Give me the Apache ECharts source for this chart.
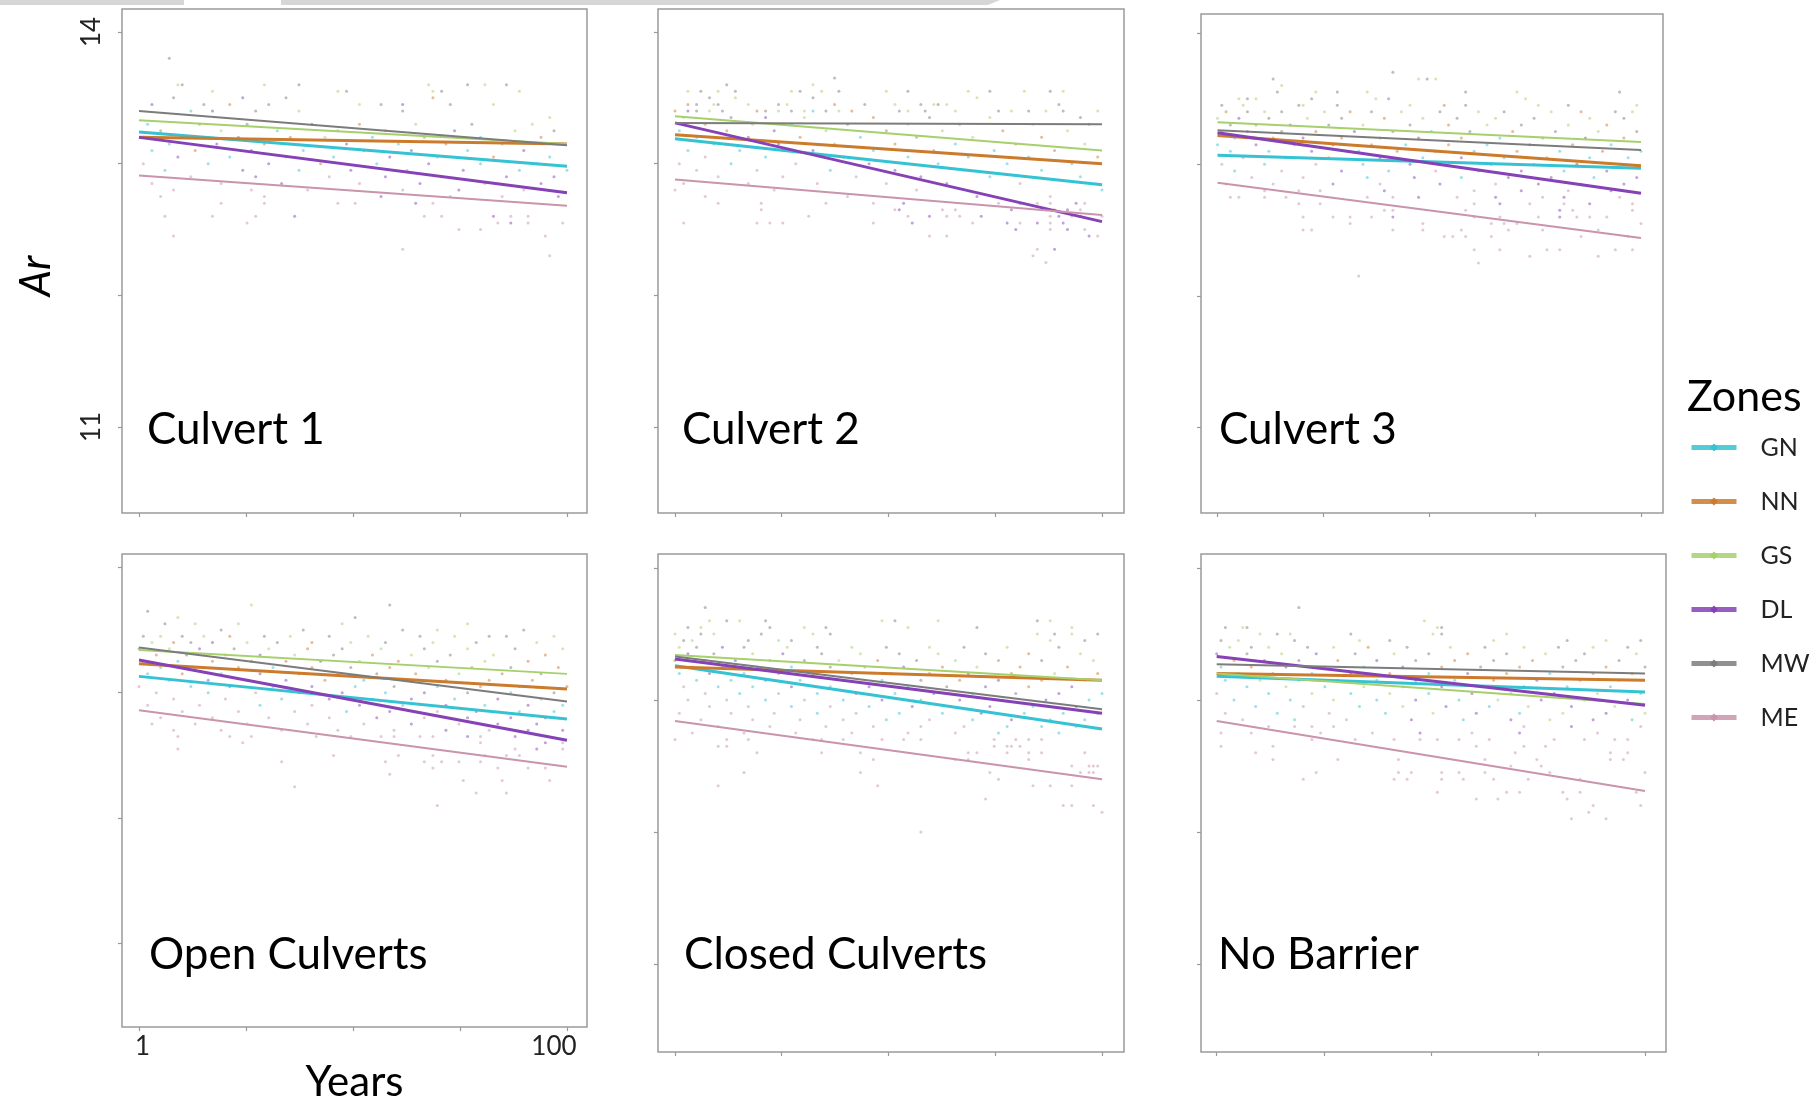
<!DOCTYPE html>
<html>
<head>
<meta charset="utf-8">
<title>Ar by zone over 100 years</title>
<script src="https://cdn.jsdelivr.net/npm/echarts@6/dist/echarts.min.js"></script>
<style>
  html, body { margin: 0; padding: 0; background: #fff; }
  #chart { width: 1820px; height: 1104px; }
</style>
</head>
<body>
<div id="chart"></div>
<script>
// zones and panels
const zones = ['GN', 'NN', 'GS', 'DL', 'MW', 'ME'];
const panelNames = ['Culvert 1', 'Culvert 2', 'Culvert 3', 'Open Culverts', 'Closed Culverts', 'No Barrier'];

// axis ticks / labels
const trendYears = [1, 100];
const xTickYears = [1, 25.75, 50.5, 75.25, 100];
const xLabelYears = [1, 100];
const yTickValues = [11, 12, 13, 14];
const yLabelValues = [11, 14];

// Ar of each zone's trend line at year 1 and at year 100 (GN, NN, GS, DL, MW, ME)
const culvert1Start = [13.24, 13.20, 13.33, 13.20, 13.40, 12.91];
const culvert1End = [12.98, 13.15, 13.15, 12.78, 13.14, 12.68];
const culvert2Start = [13.19, 13.22, 13.36, 13.31, 13.31, 12.88];
const culvert2End = [12.84, 13.00, 13.10, 12.56, 13.30, 12.61];
const culvert3Start = [13.07, 13.22, 13.32, 13.24, 13.26, 12.86];
const culvert3End = [12.97, 12.99, 13.17, 12.78, 13.11, 12.44];
const openStart = [13.13, 13.23, 13.34, 13.26, 13.36, 12.86];
const openEnd = [12.79, 13.03, 13.15, 12.62, 12.93, 12.41];
const closedStart = [13.26, 13.25, 13.34, 13.31, 13.33, 12.84];
const closedEnd = [12.78, 13.15, 13.15, 12.90, 12.93, 12.40];
const noBarrierStart = [13.18, 13.20, 13.20, 13.33, 13.27, 12.84];
const noBarrierEnd = [13.06, 13.15, 12.97, 12.96, 13.20, 12.31];

// observations: [year, Ar, zone index]
const culvert1Dots = [
  [8, 13.80, 4], [10, 13.60, 2], [11, 13.60, 4], [30, 13.60, 2], [38, 13.60, 4], [68, 13.60, 2], [77, 13.60, 4], [81, 13.60, 2], [86, 13.60, 4],
  [18, 13.55, 2], [47, 13.55, 2], [49, 13.55, 4], [69, 13.55, 2], [71, 13.55, 4], [89, 13.55, 2],
  [9, 13.50, 4], [25, 13.50, 3], [35, 13.50, 4], [69, 13.50, 1],
  [4, 13.45, 3], [16, 13.45, 4], [22, 13.45, 1], [31, 13.45, 4], [52, 13.45, 2], [57, 13.45, 4], [62, 13.45, 3], [73, 13.45, 4], [83, 13.45, 2],
  [13, 13.40, 0], [18, 13.40, 3], [28, 13.40, 4], [38, 13.40, 2], [62, 13.40, 4], [96, 13.35, 2],
  [3, 13.30, 0], [15, 13.30, 1], [26, 13.30, 4], [41, 13.30, 3], [52, 13.30, 1], [65, 13.30, 2], [78, 13.30, 4], [92, 13.30, 2],
  [6, 13.25, 1], [20, 13.25, 2], [33, 13.25, 0], [47, 13.25, 4], [58, 13.25, 1], [74, 13.25, 3], [88, 13.25, 2], [97, 13.25, 4],
  [2, 13.20, 3], [11, 13.20, 0], [24, 13.20, 4], [36, 13.20, 1], [44, 13.20, 2], [55, 13.20, 0], [67, 13.20, 1], [80, 13.20, 0], [94, 13.20, 1],
  [8, 13.15, 0], [19, 13.15, 3], [30, 13.15, 1], [49, 13.15, 3], [61, 13.15, 0], [72, 13.15, 1], [85, 13.15, 0], [99, 13.15, 1],
  [4, 13.10, 0], [14, 13.10, 1], [27, 13.10, 3], [39, 13.10, 0], [53, 13.10, 4], [64, 13.10, 3], [77, 13.10, 0], [90, 13.10, 3],
  [10, 13.05, 3], [22, 13.05, 0], [35, 13.05, 5], [46, 13.05, 0], [59, 13.05, 3], [70, 13.05, 0], [83, 13.05, 1], [96, 13.05, 0],
  [2, 13.00, 5], [17, 13.00, 0], [31, 13.00, 3], [43, 13.00, 1], [56, 13.00, 0], [68, 13.00, 3], [80, 13.00, 0], [93, 13.00, 3],
  [7, 12.95, 0], [25, 12.95, 3], [38, 12.95, 0], [50, 12.95, 3], [63, 12.95, 5], [76, 12.95, 3], [89, 12.95, 0], [100, 12.95, 0],
  [13, 12.90, 5], [28, 12.90, 3], [45, 12.90, 5], [58, 12.90, 3], [71, 12.90, 3], [86, 12.90, 3], [97, 12.90, 3],
  [4, 12.85, 5], [20, 12.85, 5], [34, 12.85, 3], [52, 12.85, 5], [66, 12.85, 3], [81, 12.85, 5], [94, 12.85, 3],
  [9, 12.80, 5], [27, 12.80, 5], [40, 12.80, 5], [62, 12.80, 5], [75, 12.80, 3], [90, 12.80, 5],
  [6, 12.75, 5], [30, 12.75, 5], [57, 12.75, 3], [73, 12.75, 5], [85, 12.75, 5], [98, 12.75, 3],
  [20, 12.70, 5], [30, 12.70, 5], [47, 12.70, 5], [51, 12.70, 5], [65, 12.70, 3], [69, 12.70, 5],
  [7, 12.60, 5], [18, 12.60, 5], [28, 12.60, 5], [37, 12.60, 3], [67, 12.60, 5], [71, 12.60, 5], [83, 12.60, 3], [87, 12.60, 5], [91, 12.60, 5],
  [26, 12.55, 5], [84, 12.55, 5], [87, 12.55, 3], [91, 12.55, 5], [99, 12.55, 5],
  [75, 12.50, 5], [80, 12.50, 5], [9, 12.45, 5], [95, 12.45, 5], [62, 12.35, 5], [96, 12.30, 5]
];
const culvert2Dots = [
  [13, 13.60, 4], [33, 13.60, 2], [38, 13.65, 4],
  [4, 13.55, 2], [7, 13.55, 4], [11, 13.55, 2], [15, 13.55, 4], [28, 13.55, 2], [30, 13.55, 4], [35, 13.55, 2], [39, 13.55, 4], [50, 13.55, 2], [55, 13.55, 4], [69, 13.55, 2], [74, 13.55, 4], [82, 13.55, 2], [88, 13.55, 4], [91, 13.55, 2],
  [9, 13.50, 4], [15, 13.50, 2], [33, 13.50, 4], [71, 13.50, 2],
  [4, 13.45, 1], [6, 13.45, 4], [10, 13.45, 2], [11, 13.45, 4], [18, 13.45, 2], [25, 13.45, 4], [27, 13.45, 2], [38, 13.45, 1], [45, 13.45, 4], [52, 13.45, 2], [58, 13.45, 4], [61, 13.45, 2], [62, 13.45, 4], [64, 13.45, 2], [90, 13.45, 4],
  [1, 13.40, 1], [4, 13.40, 3], [6, 13.40, 4], [9, 13.40, 2], [12, 13.40, 4], [20, 13.40, 1], [22, 13.40, 4], [25, 13.40, 2], [28, 13.40, 4], [31, 13.40, 2], [33, 13.40, 0], [36, 13.40, 4], [39, 13.40, 2], [42, 13.40, 1], [53, 13.40, 4], [55, 13.40, 2], [59, 13.40, 4], [66, 13.40, 2], [76, 13.40, 4], [79, 13.40, 2], [83, 13.40, 4], [87, 13.40, 2], [91, 13.40, 4], [99, 13.40, 2],
  [3, 13.35, 2], [14, 13.35, 4], [22, 13.35, 3], [31, 13.35, 2], [47, 13.35, 1], [60, 13.35, 4], [74, 13.35, 2], [95, 13.35, 4],
  [8, 13.30, 1], [19, 13.30, 2], [28, 13.30, 0], [41, 13.30, 4], [55, 13.30, 2], [67, 13.30, 1], [84, 13.30, 2], [97, 13.30, 4],
  [2, 13.25, 0], [13, 13.25, 1], [24, 13.25, 3], [36, 13.25, 2], [50, 13.25, 1], [63, 13.25, 2], [77, 13.25, 1], [92, 13.25, 2],
  [6, 13.20, 0], [18, 13.20, 3], [30, 13.20, 1], [44, 13.20, 0], [57, 13.20, 1], [70, 13.20, 2], [86, 13.20, 1],
  [10, 13.15, 0], [25, 13.15, 3], [38, 13.15, 0], [52, 13.15, 1], [66, 13.15, 0], [80, 13.15, 1], [96, 13.15, 2],
  [4, 13.10, 0], [16, 13.10, 0], [33, 13.10, 3], [47, 13.10, 0], [61, 13.10, 1], [75, 13.10, 0], [89, 13.10, 1],
  [8, 13.05, 5], [22, 13.05, 0], [40, 13.05, 3], [55, 13.05, 0], [69, 13.05, 0], [83, 13.05, 0], [99, 13.05, 1],
  [2, 13.00, 5], [14, 13.00, 0], [29, 13.00, 5], [46, 13.00, 3], [62, 13.00, 0], [78, 13.00, 0], [93, 13.00, 0],
  [6, 12.95, 5], [20, 12.95, 5], [37, 12.95, 0], [52, 12.95, 3], [68, 12.95, 5], [86, 12.95, 0],
  [11, 12.90, 5], [26, 12.90, 5], [43, 12.90, 5], [58, 12.90, 3], [74, 12.90, 0], [95, 12.90, 0],
  [3, 12.85, 5], [18, 12.85, 5], [34, 12.85, 5], [50, 12.85, 5], [64, 12.85, 3], [81, 12.85, 5], [100, 12.80, 0],
  [1, 12.80, 5], [8, 12.75, 5], [24, 12.80, 5], [41, 12.75, 5], [57, 12.80, 5], [71, 12.75, 3], [88, 12.75, 5],
  [11, 12.70, 5], [21, 12.70, 5], [36, 12.70, 5], [47, 12.70, 5], [54, 12.70, 3], [76, 12.70, 5], [81, 12.70, 3], [85, 12.70, 5], [88, 12.70, 5], [94, 12.70, 3], [96, 12.70, 5],
  [21, 12.65, 5], [52, 12.65, 5], [53, 12.65, 3], [63, 12.65, 5], [66, 12.65, 5], [79, 12.65, 3], [87, 12.65, 5], [89, 12.65, 5], [92, 12.65, 3], [95, 12.65, 5],
  [32, 12.60, 5], [55, 12.60, 5], [60, 12.60, 3], [64, 12.60, 5], [67, 12.60, 5], [72, 12.60, 3], [88, 12.60, 5], [90, 12.60, 3], [93, 12.60, 5], [95, 12.60, 3], [100, 12.60, 5],
  [3, 12.55, 5], [20, 12.55, 5], [23, 12.55, 5], [26, 12.55, 5], [47, 12.55, 5], [56, 12.55, 3], [70, 12.55, 5], [78, 12.55, 3], [81, 12.55, 5], [85, 12.55, 3], [88, 12.55, 5], [91, 12.55, 3],
  [80, 12.50, 3], [88, 12.50, 5], [92, 12.50, 3], [96, 12.50, 5],
  [60, 12.45, 5], [64, 12.45, 5], [97, 12.45, 3], [99, 12.45, 5],
  [85, 12.35, 5], [89, 12.35, 3], [84, 12.30, 5], [87, 12.25, 5]
];
const culvert3Dots = [
  [42, 13.70, 4], [48, 13.65, 2], [50, 13.65, 4], [52, 13.65, 2], [14, 13.65, 4], [16, 13.60, 2],
  [15, 13.55, 4], [24, 13.55, 2], [29, 13.55, 4], [36, 13.55, 2], [59, 13.55, 4], [71, 13.55, 2], [95, 13.55, 4],
  [6, 13.50, 2], [8, 13.50, 4], [10, 13.50, 2], [23, 13.50, 4], [38, 13.50, 2], [41, 13.50, 4], [73, 13.50, 2],
  [2, 13.45, 4], [7, 13.45, 2], [20, 13.45, 4], [21, 13.45, 2], [29, 13.45, 4], [46, 13.45, 2], [54, 13.45, 1], [59, 13.45, 4], [76, 13.45, 2], [83, 13.45, 4], [99, 13.45, 2],
  [3, 13.40, 1], [8, 13.40, 4], [12, 13.40, 2], [16, 13.40, 4], [26, 13.40, 2], [32, 13.40, 1], [37, 13.40, 4], [44, 13.40, 2], [53, 13.40, 4], [62, 13.40, 2], [68, 13.40, 4], [79, 13.40, 2], [86, 13.40, 1], [94, 13.40, 4], [98, 13.40, 2],
  [1, 13.35, 2], [6, 13.35, 3], [13, 13.35, 4], [22, 13.35, 2], [30, 13.35, 4], [40, 13.35, 1], [49, 13.35, 2], [57, 13.35, 4], [66, 13.35, 2], [75, 13.35, 4], [88, 13.35, 2], [96, 13.35, 4],
  [4, 13.30, 4], [10, 13.30, 1], [18, 13.30, 3], [27, 13.30, 4], [35, 13.30, 2], [46, 13.30, 4], [55, 13.30, 1], [64, 13.30, 2], [72, 13.30, 4], [83, 13.30, 2], [92, 13.30, 1],
  [2, 13.25, 1], [8, 13.25, 3], [16, 13.25, 4], [24, 13.25, 1], [33, 13.25, 3], [42, 13.25, 4], [51, 13.25, 0], [60, 13.25, 4], [70, 13.25, 1], [80, 13.25, 4], [90, 13.25, 2], [99, 13.25, 4],
  [5, 13.20, 0], [14, 13.20, 1], [21, 13.20, 3], [30, 13.20, 1], [39, 13.20, 0], [48, 13.20, 3], [58, 13.20, 1], [67, 13.20, 0], [77, 13.20, 1], [87, 13.20, 3], [96, 13.20, 1],
  [1, 13.15, 0], [10, 13.15, 3], [19, 13.15, 0], [28, 13.15, 3], [37, 13.15, 1], [45, 13.15, 0], [55, 13.15, 1], [64, 13.15, 0], [74, 13.15, 3], [84, 13.15, 1], [93, 13.15, 0],
  [4, 13.10, 0], [13, 13.10, 0], [23, 13.10, 3], [34, 13.10, 0], [43, 13.10, 1], [52, 13.10, 3], [61, 13.10, 0], [71, 13.10, 1], [81, 13.10, 0], [91, 13.10, 1], [100, 13.10, 0],
  [7, 13.05, 5], [17, 13.05, 0], [27, 13.05, 1], [39, 13.05, 3], [49, 13.05, 0], [58, 13.05, 3], [68, 13.05, 0], [78, 13.05, 1], [88, 13.05, 0], [97, 13.05, 0],
  [2, 13.00, 5], [12, 13.00, 0], [24, 13.00, 5], [35, 13.00, 0], [46, 13.00, 3], [55, 13.00, 0], [65, 13.00, 3], [75, 13.00, 0], [85, 13.00, 3], [95, 13.00, 0],
  [5, 12.95, 0], [16, 12.95, 5], [30, 12.95, 3], [41, 12.95, 0], [52, 12.95, 5], [62, 12.95, 0], [72, 12.95, 3], [82, 12.95, 0], [92, 12.95, 3],
  [9, 12.90, 5], [21, 12.90, 5], [36, 12.90, 0], [47, 12.90, 3], [58, 12.90, 0], [69, 12.90, 3], [79, 12.90, 3], [89, 12.90, 0], [99, 12.90, 3],
  [3, 12.85, 5], [14, 12.85, 5], [28, 12.85, 3], [39, 12.85, 5], [53, 12.85, 3], [66, 12.85, 5], [76, 12.85, 3], [86, 12.85, 5], [96, 12.85, 3],
  [12, 12.80, 5], [20, 12.80, 5], [25, 12.80, 5], [40, 12.80, 3], [61, 12.80, 5], [72, 12.80, 3], [83, 12.80, 5], [93, 12.80, 3],
  [4, 12.75, 5], [6, 12.75, 5], [12, 12.75, 5], [17, 12.75, 5], [36, 12.75, 5], [42, 12.75, 5], [48, 12.75, 3], [57, 12.75, 5], [66, 12.75, 3], [77, 12.75, 5], [82, 12.75, 3], [95, 12.75, 5],
  [20, 12.70, 5], [25, 12.70, 5], [61, 12.70, 5], [67, 12.70, 3], [74, 12.70, 5], [82, 12.70, 5], [88, 12.70, 3], [98, 12.70, 5],
  [40, 12.65, 5], [42, 12.65, 5], [59, 12.65, 5], [81, 12.65, 3], [84, 12.65, 5], [98, 12.65, 5],
  [21, 12.60, 5], [28, 12.60, 5], [32, 12.60, 5], [37, 12.60, 5], [42, 12.60, 3], [61, 12.60, 5], [67, 12.60, 5], [76, 12.60, 5], [81, 12.60, 3], [85, 12.60, 5], [88, 12.60, 5], [92, 12.60, 5],
  [32, 12.55, 5], [49, 12.55, 5], [65, 12.55, 5], [68, 12.55, 5], [71, 12.55, 5], [100, 12.55, 5],
  [21, 12.50, 5], [23, 12.50, 5], [42, 12.50, 5], [49, 12.50, 5], [58, 12.50, 5], [69, 12.50, 5], [77, 12.50, 5], [90, 12.50, 5],
  [54, 12.45, 5], [56, 12.45, 5], [59, 12.45, 5], [65, 12.45, 5], [86, 12.45, 5], [97, 12.45, 5],
  [61, 12.35, 5], [67, 12.35, 5], [78, 12.35, 5], [81, 12.35, 5], [94, 12.35, 5], [98, 12.35, 5],
  [74, 12.30, 5], [90, 12.30, 5], [62, 12.25, 5], [34, 12.15, 5]
];
const openDots = [
  [3, 13.65, 4], [27, 13.70, 2], [59, 13.70, 4], [10, 13.60, 2], [51, 13.60, 4], [77, 13.55, 2], [82, 13.45, 4],
  [7, 13.55, 4], [14, 13.55, 2], [20, 13.50, 4], [24, 13.55, 2], [39, 13.50, 4], [48, 13.55, 2], [62, 13.50, 4], [70, 13.50, 2], [90, 13.50, 4],
  [2, 13.45, 4], [6, 13.45, 2], [11, 13.45, 4], [16, 13.45, 2], [22, 13.45, 1], [30, 13.45, 4], [36, 13.45, 2], [45, 13.45, 4], [54, 13.45, 2], [66, 13.45, 4], [74, 13.45, 2], [86, 13.45, 4], [97, 13.45, 2],
  [4, 13.40, 2], [9, 13.40, 1], [13, 13.40, 4], [18, 13.40, 3], [26, 13.40, 2], [33, 13.40, 4], [41, 13.40, 1], [50, 13.40, 2], [58, 13.40, 4], [69, 13.40, 2], [79, 13.40, 4], [93, 13.40, 2],
  [1, 13.35, 4], [8, 13.35, 2], [15, 13.35, 3], [23, 13.35, 4], [31, 13.35, 2], [40, 13.35, 1], [48, 13.35, 4], [57, 13.35, 2], [67, 13.35, 4], [77, 13.35, 2], [88, 13.35, 4], [99, 13.35, 2],
  [5, 13.30, 1], [12, 13.30, 4], [21, 13.30, 1], [29, 13.30, 3], [37, 13.30, 2], [46, 13.30, 4], [55, 13.30, 1], [64, 13.30, 2], [73, 13.30, 4], [83, 13.30, 2], [95, 13.30, 1],
  [2, 13.25, 3], [10, 13.25, 0], [18, 13.25, 1], [27, 13.25, 4], [35, 13.25, 1], [43, 13.25, 3], [52, 13.25, 2], [61, 13.25, 1], [70, 13.25, 4], [81, 13.25, 2], [91, 13.25, 1],
  [6, 13.20, 0], [14, 13.20, 3], [24, 13.20, 1], [32, 13.20, 0], [41, 13.20, 1], [50, 13.20, 4], [59, 13.20, 1], [68, 13.20, 2], [78, 13.20, 1], [87, 13.20, 4], [98, 13.20, 1],
  [3, 13.15, 0], [11, 13.15, 1], [20, 13.15, 0], [29, 13.15, 3], [38, 13.15, 1], [47, 13.15, 0], [56, 13.15, 4], [65, 13.15, 1], [75, 13.15, 2], [85, 13.15, 1], [94, 13.15, 4],
  [8, 13.10, 0], [17, 13.10, 3], [26, 13.10, 0], [35, 13.10, 3], [44, 13.10, 1], [53, 13.10, 0], [63, 13.10, 1], [72, 13.10, 4], [82, 13.10, 1], [92, 13.10, 1],
  [1, 13.05, 5], [13, 13.05, 0], [22, 13.05, 3], [32, 13.05, 0], [41, 13.05, 3], [51, 13.05, 0], [60, 13.05, 4], [70, 13.05, 0], [80, 13.05, 1], [89, 13.05, 4], [100, 13.05, 1],
  [5, 13.00, 5], [17, 13.00, 0], [28, 13.00, 5], [38, 13.00, 0], [48, 13.00, 3], [58, 13.00, 0], [67, 13.00, 3], [77, 13.00, 4], [87, 13.00, 0], [97, 13.00, 4],
  [9, 12.95, 5], [21, 12.95, 5], [34, 12.95, 0], [45, 12.95, 3], [55, 12.95, 0], [64, 12.95, 3], [74, 12.95, 0], [84, 12.95, 3], [94, 12.95, 0],
  [3, 12.90, 5], [15, 12.90, 5], [29, 12.90, 0], [41, 12.90, 5], [52, 12.90, 3], [62, 12.90, 0], [72, 12.90, 3], [81, 12.90, 0], [91, 12.90, 3], [99, 12.90, 0],
  [11, 12.85, 5], [24, 12.85, 5], [37, 12.85, 5], [49, 12.85, 0], [59, 12.85, 3], [70, 12.85, 5], [79, 12.85, 3], [89, 12.85, 0], [97, 12.85, 0],
  [6, 12.80, 5], [18, 12.80, 5], [31, 12.80, 5], [45, 12.80, 5], [56, 12.80, 3], [67, 12.80, 5], [77, 12.80, 3], [87, 12.80, 3], [95, 12.80, 3],
  [4, 12.75, 5], [14, 12.75, 5], [26, 12.75, 5], [40, 12.75, 5], [53, 12.75, 5], [64, 12.75, 3], [75, 12.75, 5], [84, 12.75, 3], [93, 12.75, 3],
  [9, 12.70, 5], [20, 12.70, 5], [34, 12.70, 5], [47, 12.70, 5], [60, 12.70, 5], [72, 12.70, 3], [82, 12.70, 5], [91, 12.70, 3], [99, 12.70, 3],
  [10, 12.65, 5], [22, 12.65, 5], [27, 12.65, 5], [42, 12.65, 5], [50, 12.65, 5], [57, 12.65, 5], [60, 12.65, 5], [66, 12.65, 5], [69, 12.65, 5], [77, 12.65, 3], [80, 12.65, 5], [88, 12.65, 3],
  [25, 12.60, 5], [80, 12.60, 5], [95, 12.60, 3], [99, 12.60, 5],
  [10, 12.55, 5], [88, 12.55, 5], [93, 12.55, 3], [99, 12.55, 5],
  [46, 12.50, 5], [61, 12.50, 5], [69, 12.50, 5], [81, 12.50, 5], [86, 12.50, 5], [89, 12.50, 5],
  [34, 12.45, 5], [58, 12.45, 5], [67, 12.45, 5], [71, 12.45, 5], [75, 12.45, 5], [80, 12.45, 5],
  [69, 12.40, 5], [84, 12.40, 5], [91, 12.40, 5], [95, 12.40, 5],
  [59, 12.35, 5], [76, 12.30, 5], [85, 12.30, 5], [96, 12.30, 5], [37, 12.25, 5], [79, 12.20, 5], [86, 12.20, 5], [70, 12.10, 5]
];
const closedDots = [
  [8, 13.70, 4], [9, 13.60, 2], [13, 13.60, 4], [16, 13.60, 2], [22, 13.60, 4], [49, 13.60, 2], [52, 13.60, 4], [62, 13.60, 2], [85, 13.60, 4], [88, 13.60, 2],
  [4, 13.55, 4], [7, 13.55, 2], [23, 13.55, 4], [31, 13.55, 2], [36, 13.55, 4], [55, 13.55, 2], [71, 13.55, 4], [93, 13.55, 2],
  [1, 13.50, 2], [7, 13.50, 4], [10, 13.50, 2], [21, 13.50, 4], [33, 13.50, 2], [37, 13.50, 4], [85, 13.50, 2], [89, 13.50, 4], [93, 13.50, 2], [99, 13.50, 4],
  [3, 13.45, 4], [5, 13.45, 2], [18, 13.45, 4], [25, 13.45, 2], [28, 13.45, 4], [88, 13.45, 2], [96, 13.45, 4],
  [2, 13.40, 2], [6, 13.40, 4], [12, 13.40, 3], [17, 13.40, 4], [27, 13.40, 2], [34, 13.40, 4], [42, 13.40, 2], [50, 13.40, 4], [60, 13.40, 2], [68, 13.40, 4], [78, 13.40, 2], [90, 13.40, 4],
  [4, 13.35, 3], [10, 13.35, 4], [19, 13.35, 2], [26, 13.35, 3], [35, 13.35, 4], [44, 13.35, 2], [53, 13.35, 4], [62, 13.35, 2], [73, 13.35, 4], [83, 13.35, 1], [95, 13.35, 2],
  [1, 13.30, 1], [8, 13.30, 4], [15, 13.30, 3], [23, 13.30, 1], [31, 13.30, 4], [39, 13.30, 2], [48, 13.30, 1], [57, 13.30, 4], [66, 13.30, 2], [76, 13.30, 1], [86, 13.30, 4], [98, 13.30, 2],
  [5, 13.25, 0], [12, 13.25, 1], [20, 13.25, 3], [28, 13.25, 0], [37, 13.25, 4], [45, 13.25, 1], [54, 13.25, 3], [63, 13.25, 1], [71, 13.25, 2], [81, 13.25, 1], [92, 13.25, 1],
  [2, 13.20, 0], [9, 13.20, 3], [17, 13.20, 0], [25, 13.20, 1], [33, 13.20, 3], [42, 13.20, 1], [51, 13.20, 4], [60, 13.20, 1], [69, 13.20, 3], [79, 13.20, 1], [89, 13.20, 2], [99, 13.20, 1],
  [6, 13.15, 0], [14, 13.15, 0], [22, 13.15, 3], [30, 13.15, 0], [40, 13.15, 3], [49, 13.15, 0], [58, 13.15, 4], [67, 13.15, 1], [76, 13.15, 3], [86, 13.15, 1], [96, 13.15, 2],
  [3, 13.10, 5], [11, 13.10, 0], [19, 13.10, 0], [28, 13.10, 3], [37, 13.10, 0], [46, 13.10, 3], [55, 13.10, 0], [64, 13.10, 4], [73, 13.10, 3], [83, 13.10, 1], [93, 13.10, 3],
  [8, 13.05, 5], [16, 13.05, 0], [25, 13.05, 5], [34, 13.05, 0], [43, 13.05, 3], [52, 13.05, 0], [61, 13.05, 3], [70, 13.05, 0], [80, 13.05, 4], [90, 13.05, 3], [100, 13.05, 0],
  [4, 13.00, 5], [13, 13.00, 5], [22, 13.00, 0], [31, 13.00, 5], [40, 13.00, 0], [49, 13.00, 3], [58, 13.00, 0], [67, 13.00, 3], [77, 13.00, 0], [87, 13.00, 3], [97, 13.00, 0],
  [9, 12.95, 5], [18, 12.95, 5], [28, 12.95, 0], [37, 12.95, 5], [46, 12.95, 0], [56, 12.95, 3], [65, 12.95, 0], [74, 12.95, 3], [84, 12.95, 0], [94, 12.95, 3],
  [2, 12.90, 5], [14, 12.90, 5], [24, 12.90, 5], [34, 12.90, 0], [43, 12.90, 5], [53, 12.90, 0], [63, 12.90, 0], [72, 12.90, 3], [82, 12.90, 0], [91, 12.90, 0], [99, 12.90, 3],
  [7, 12.85, 5], [19, 12.85, 5], [30, 12.85, 5], [40, 12.85, 5], [50, 12.85, 0], [60, 12.85, 5], [70, 12.85, 0], [79, 12.85, 3], [88, 12.85, 0], [96, 12.85, 0],
  [11, 12.80, 5], [23, 12.80, 5], [36, 12.80, 5], [47, 12.80, 5], [58, 12.80, 5], [68, 12.80, 5], [78, 12.80, 0], [86, 12.80, 0], [94, 12.80, 5],
  [5, 12.75, 5], [17, 12.75, 5], [29, 12.75, 5], [42, 12.75, 5], [55, 12.75, 5], [66, 12.75, 5], [76, 12.75, 0], [90, 12.75, 0],
  [1, 12.70, 5], [13, 12.70, 5], [18, 12.70, 5], [33, 12.70, 5], [35, 12.70, 5], [40, 12.70, 5], [49, 12.70, 5], [54, 12.70, 5], [58, 12.70, 5], [75, 12.70, 5], [80, 12.70, 5], [83, 12.70, 5], [86, 12.70, 5],
  [11, 12.65, 5], [13, 12.65, 5], [75, 12.65, 5], [78, 12.65, 5], [79, 12.65, 5], [81, 12.65, 5],
  [20, 12.60, 5], [35, 12.60, 5], [44, 12.60, 5], [69, 12.60, 5], [71, 12.60, 5], [78, 12.60, 5], [83, 12.60, 5], [86, 12.60, 5], [96, 12.60, 5],
  [47, 12.55, 5], [66, 12.55, 5], [69, 12.55, 5], [83, 12.55, 5],
  [93, 12.50, 5], [97, 12.50, 5], [98, 12.50, 5], [99, 12.50, 5],
  [17, 12.45, 5], [44, 12.45, 5], [74, 12.45, 5], [95, 12.45, 5], [97, 12.45, 5], [98, 12.45, 5],
  [76, 12.40, 5], [11, 12.35, 5], [48, 12.35, 5], [84, 12.35, 5], [88, 12.35, 5], [93, 12.35, 5],
  [73, 12.25, 5], [91, 12.20, 5], [93, 12.20, 5], [98, 12.20, 5], [100, 12.15, 5], [58, 12.00, 5]
];
const noBarrierDots = [
  [20, 13.70, 4], [49, 13.60, 2], [3, 13.55, 4], [7, 13.55, 2], [8, 13.55, 4], [52, 13.55, 2], [53, 13.55, 4],
  [11, 13.50, 2], [15, 13.50, 4], [18, 13.50, 2], [32, 13.50, 4], [51, 13.50, 2], [53, 13.50, 4], [68, 13.50, 2],
  [2, 13.45, 4], [6, 13.45, 2], [19, 13.45, 4], [34, 13.45, 2], [41, 13.45, 4], [65, 13.45, 2], [82, 13.45, 4], [91, 13.45, 2], [99, 13.45, 4],
  [4, 13.40, 2], [9, 13.40, 4], [13, 13.40, 2], [22, 13.40, 4], [28, 13.40, 2], [36, 13.40, 1], [45, 13.40, 4], [55, 13.40, 2], [63, 13.40, 4], [72, 13.40, 2], [80, 13.40, 4], [88, 13.40, 2], [96, 13.40, 4],
  [1, 13.35, 3], [8, 13.35, 4], [16, 13.35, 2], [24, 13.35, 3], [33, 13.35, 4], [42, 13.35, 2], [50, 13.35, 4], [59, 13.35, 1], [68, 13.35, 4], [77, 13.35, 2], [86, 13.35, 4], [98, 13.35, 2],
  [5, 13.30, 1], [12, 13.30, 3], [20, 13.30, 4], [29, 13.30, 1], [38, 13.30, 3], [47, 13.30, 4], [56, 13.30, 1], [65, 13.30, 4], [74, 13.30, 1], [84, 13.30, 4], [94, 13.30, 4],
  [2, 13.25, 0], [9, 13.25, 1], [17, 13.25, 3], [26, 13.25, 1], [35, 13.25, 0], [44, 13.25, 3], [53, 13.25, 1], [62, 13.25, 4], [71, 13.25, 1], [81, 13.25, 4], [91, 13.25, 1], [100, 13.25, 4],
  [6, 13.20, 0], [14, 13.20, 1], [23, 13.20, 0], [32, 13.20, 3], [41, 13.20, 1], [50, 13.20, 0], [59, 13.20, 3], [68, 13.20, 1], [78, 13.20, 0], [88, 13.20, 1], [97, 13.20, 1],
  [3, 13.15, 0], [11, 13.15, 2], [20, 13.15, 0], [29, 13.15, 1], [38, 13.15, 0], [47, 13.15, 3], [56, 13.15, 0], [65, 13.15, 1], [75, 13.15, 3], [85, 13.15, 1], [94, 13.15, 0],
  [8, 13.10, 0], [17, 13.10, 2], [26, 13.10, 0], [35, 13.10, 2], [44, 13.10, 0], [53, 13.10, 3], [62, 13.10, 0], [72, 13.10, 3], [82, 13.10, 0], [92, 13.10, 0],
  [1, 13.05, 5], [13, 13.05, 0], [23, 13.05, 2], [32, 13.05, 0], [41, 13.05, 2], [50, 13.05, 0], [60, 13.05, 3], [69, 13.05, 0], [79, 13.05, 3], [89, 13.05, 2], [99, 13.05, 0],
  [5, 13.00, 0], [18, 13.00, 0], [28, 13.00, 2], [38, 13.00, 0], [47, 13.00, 3], [57, 13.00, 0], [66, 13.00, 2], [76, 13.00, 3], [86, 13.00, 0], [96, 13.00, 3],
  [10, 12.95, 0], [21, 12.95, 5], [34, 12.95, 0], [44, 12.95, 2], [54, 12.95, 3], [64, 12.95, 0], [73, 12.95, 2], [83, 12.95, 3], [93, 12.95, 2],
  [3, 12.90, 5], [15, 12.90, 0], [27, 12.90, 5], [40, 12.90, 0], [51, 12.90, 2], [61, 12.90, 3], [71, 12.90, 0], [81, 12.90, 2], [91, 12.90, 3], [100, 12.90, 2],
  [7, 12.85, 5], [19, 12.85, 0], [31, 12.85, 5], [46, 12.85, 3], [58, 12.85, 0], [69, 12.85, 3], [78, 12.85, 2], [88, 12.85, 3], [97, 12.85, 0],
  [13, 12.80, 5], [19, 12.80, 5], [23, 12.80, 5], [28, 12.80, 5], [72, 12.80, 5], [83, 12.80, 3], [99, 12.80, 5],
  [2, 12.75, 5], [9, 12.75, 5], [25, 12.75, 5], [37, 12.75, 5], [48, 12.75, 3], [60, 12.75, 5], [71, 12.75, 3], [89, 12.75, 5],
  [23, 12.70, 5], [33, 12.70, 5], [42, 12.70, 5], [48, 12.70, 5], [52, 12.70, 5], [57, 12.70, 5], [64, 12.70, 5], [79, 12.70, 5], [86, 12.70, 5], [93, 12.70, 5], [96, 12.70, 5],
  [2, 12.65, 5], [14, 12.65, 5], [61, 12.65, 5], [72, 12.65, 5], [77, 12.65, 5],
  [10, 12.60, 5], [70, 12.60, 5], [92, 12.60, 5], [96, 12.60, 5],
  [14, 12.55, 5], [29, 12.55, 5], [43, 12.55, 5], [63, 12.55, 5], [75, 12.55, 5], [92, 12.55, 5], [95, 12.55, 5],
  [69, 12.50, 5], [76, 12.50, 5],
  [24, 12.45, 5], [43, 12.45, 5], [46, 12.45, 5], [53, 12.45, 5], [57, 12.45, 5], [63, 12.45, 5], [78, 12.45, 5], [100, 12.45, 5],
  [21, 12.40, 5], [42, 12.40, 5], [45, 12.40, 5], [53, 12.40, 5], [58, 12.40, 5], [65, 12.40, 5], [73, 12.40, 5], [85, 12.40, 5],
  [52, 12.30, 5], [68, 12.30, 5], [71, 12.30, 5], [81, 12.30, 5], [85, 12.30, 5], [98, 12.30, 5],
  [61, 12.25, 5], [66, 12.25, 5], [82, 12.25, 5], [88, 12.20, 5], [99, 12.20, 5], [87, 12.15, 5], [83, 12.10, 5], [91, 12.10, 5]
];

const panelStarts = [culvert1Start, culvert2Start, culvert3Start, openStart, closedStart, noBarrierStart];
const panelEnds = [culvert1End, culvert2End, culvert3End, openEnd, closedEnd, noBarrierEnd];
const panelDots = [culvert1Dots, culvert2Dots, culvert3Dots, openDots, closedDots, noBarrierDots];

// layout (pixels) and axis extents per panel
const gridBoxes = [
  [122, 9, 465, 504], [658, 9, 466, 504], [1201, 14, 462, 499],
  [122, 554, 465, 498], [658, 554, 466, 498], [1201, 554, 465, 498]
];
const xExtents = [[-2.93, 104.63], [-2.94, 105.1], [-2.86, 105.14], [-2.93, 104.63], [-2.94, 105.1], [-2.63, 104.85]];
const yExtents = [[10.347, 14.175], [10.347, 14.175], [10.347, 14.144], [10.333, 14.106], [10.333, 14.106], [10.333, 14.106]];
const labelSpots = [[147, 430], [682, 430], [1219, 430], [149, 955], [684, 955], [1218, 955]];

const zoneColors = ['#35c3d3', '#cc7a2c', '#a6d06c', '#8541b5', '#7c7c7c', '#c994ac'];
const zoneWidths = [3, 3, 2, 3, 2, 2];
const frameColor = '#9a9a9a';
const font = 'Lato, "Open Sans", sans-serif';

const grids = [], xAxes = [], yAxes = [], series = [];

panelNames.forEach((name, p) => {
  const [left, top, width, height] = gridBoxes[p];
  grids.push({
    left, top, width, height,
    show: true, borderColor: frameColor, borderWidth: 1.5, backgroundColor: 'transparent'
  });

  xAxes.push({
    type: 'value', gridIndex: p,
    min: xExtents[p][0], max: xExtents[p][1],
    splitLine: { show: false },
    axisLine: { show: false, onZero: false },
    axisTick: { show: true, customValues: xTickYears, length: 4, lineStyle: { color: frameColor, width: 1.2 } },
    axisLabel: p === 3 ? {
      show: true, customValues: xLabelYears, margin: 7,
      fontFamily: font, fontSize: 26, color: '#222',
      formatter: v => (v === 100 ? '{r|100}' : '{l|1}'),
      rich: {
        l: { fontFamily: font, fontSize: 26, color: '#222', padding: [0, 0, 0, 7] },
        r: { fontFamily: font, fontSize: 26, color: '#222', padding: [0, 26, 0, 0] }
      }
    } : { show: false },
    name: p === 3 ? 'Years' : '',
    nameLocation: 'middle', nameGap: 7,
    nameTextStyle: { fontFamily: font, fontSize: 42, color: '#000', verticalAlign: 'top' }
  });

  yAxes.push({
    type: 'value', gridIndex: p,
    min: yExtents[p][0], max: yExtents[p][1],
    splitLine: { show: false },
    axisLine: { show: false, onZero: false },
    axisTick: { show: true, customValues: yTickValues, length: 4, lineStyle: { color: frameColor, width: 1.2 } },
    axisLabel: p === 0 ? {
      show: true, customValues: yLabelValues, rotate: 90, margin: 17,
      fontFamily: font, fontSize: 26, color: '#222'
    } : { show: false },
    name: p === 0 ? 'Ar' : '',
    nameLocation: 'middle', nameGap: 65,
    nameTextStyle: { fontFamily: font, fontSize: 42, fontStyle: 'italic', color: '#000', padding: [0, 30, 0, 0] }
  });

  series.push({
    type: 'scatter', xAxisIndex: p, yAxisIndex: p, silent: true,
    data: panelDots[p],
    symbolSize: 3,
    itemStyle: { color: params => zoneColors[params.data[2]], opacity: 0.5 },
    z: 1
  });

  zones.forEach((zone, z) => {
    series.push({
      name: zone, type: 'line', xAxisIndex: p, yAxisIndex: p,
      data: [[trendYears[0], panelStarts[p][z]], [trendYears[1], panelEnds[p][z]]],
      symbol: 'diamond', symbolSize: 8, showSymbol: false,
      lineStyle: { color: zoneColors[z], width: zoneWidths[z] },
      itemStyle: { color: zoneColors[z] },
      emphasis: { disabled: true },
      z: 3
    });
  });
});

const chart = echarts.init(document.getElementById('chart'), null, { renderer: 'canvas' });
chart.setOption({
  animation: false,
  backgroundColor: '#fff',
  grid: grids,
  xAxis: xAxes,
  yAxis: yAxes,
  legend: {
    data: zones,
    orient: 'vertical',
    left: 1689, top: 435,
    padding: 0,
    itemWidth: 45, itemHeight: 10, itemGap: 29,
    lineStyle: { width: 5, opacity: 0.85 },
    textStyle: { fontFamily: font, fontSize: 25, color: '#222', padding: [0, 0, 0, 19] }
  },
  graphic: [
    { type: 'rect', shape: { x: 0, y: 0, width: 184, height: 5 }, style: { fill: '#d6d6d6' } },
    { type: 'polygon', shape: { points: [[281, 0], [1000, 0], [988, 5], [281, 5]] }, style: { fill: '#d6d6d6' } },
    { type: 'text', x: 1687, y: 397, style: { text: 'Zones', font: '43px ' + font, fill: '#000', verticalAlign: 'middle' } }
  ].concat(panelNames.map((name, p) => ({
    type: 'text', x: labelSpots[p][0], y: labelSpots[p][1],
    style: { text: name, font: '44px ' + font, fill: '#000', verticalAlign: 'middle' }
  }))),
  series
});
</script>
</body>
</html>
